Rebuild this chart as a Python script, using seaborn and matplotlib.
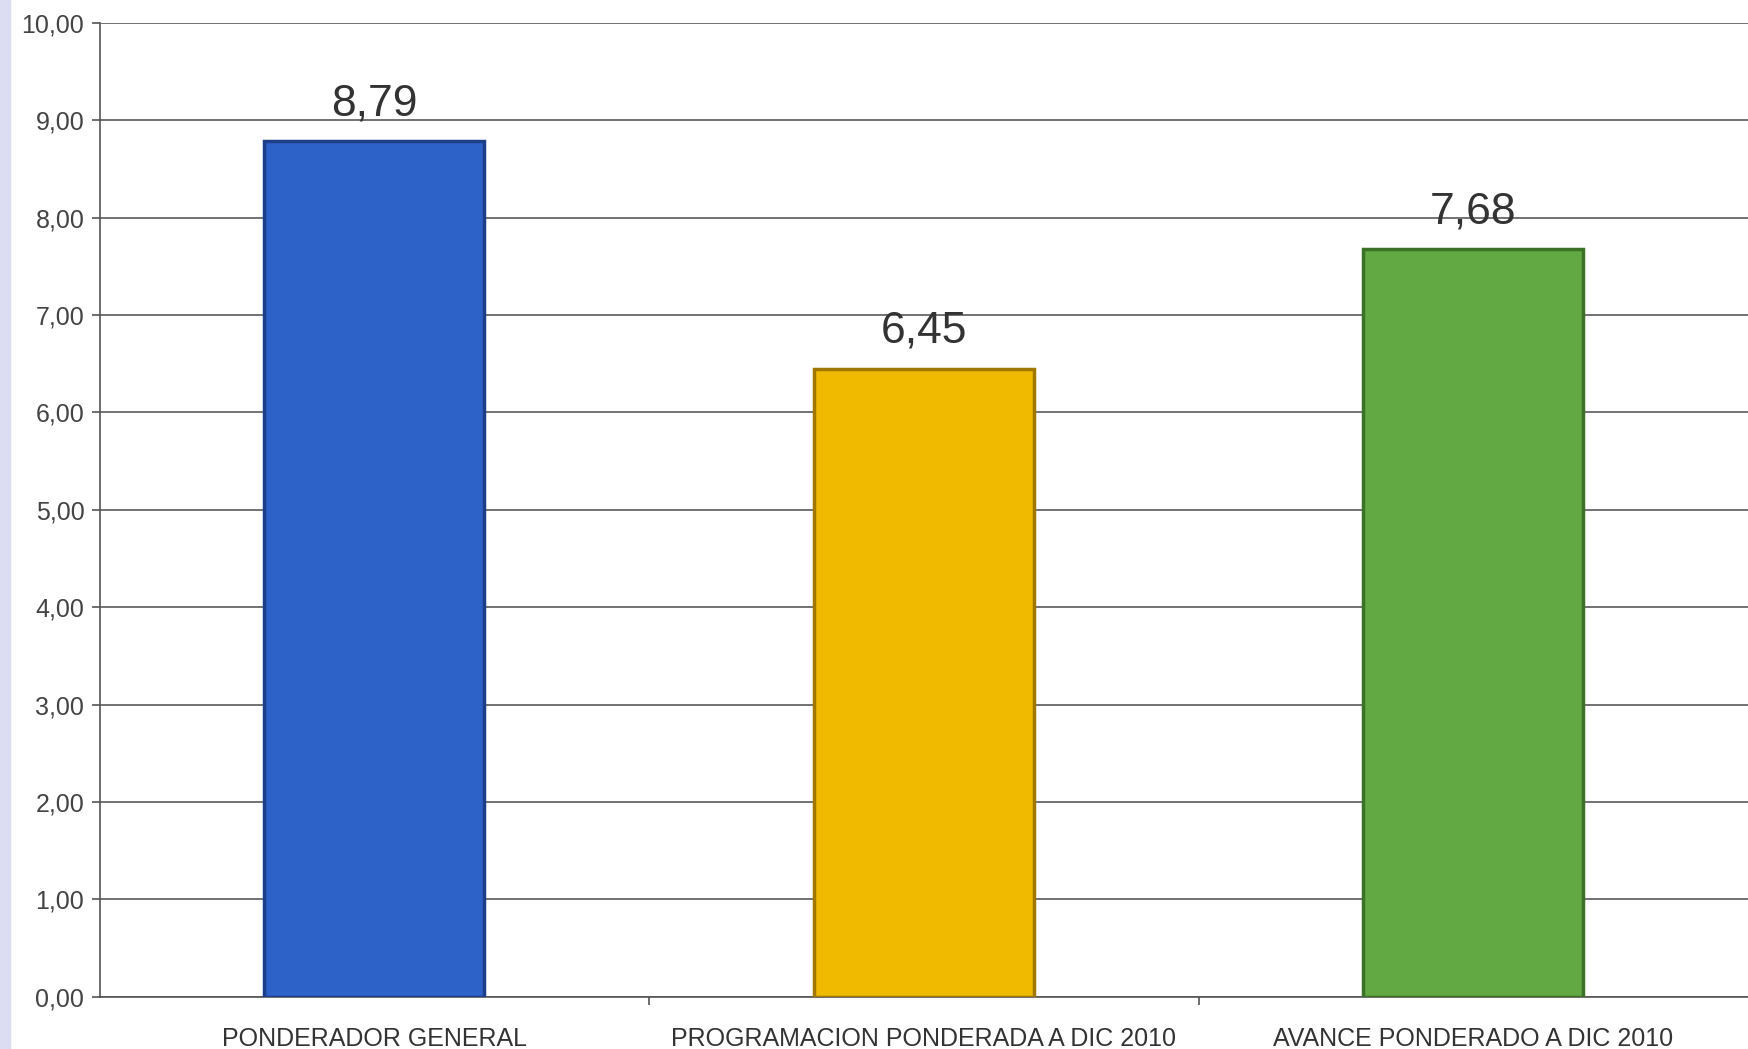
import pandas as pd
import matplotlib
matplotlib.use("Agg")
import matplotlib.pyplot as plt
from matplotlib.ticker import FuncFormatter, FixedLocator
from matplotlib.patches import Rectangle
import seaborn as sns

# Data
categories = ["PONDERADOR GENERAL",
              "PROGRAMACION PONDERADA A DIC 2010",
              "AVANCE PONDERADO A DIC 2010"]
values = [8.79, 6.45, 7.68]
bar_colors = ["#2D62C8", "#F0BA00", "#62A843"]
edge_colors = ["#1D3E88", "#A07800", "#3B7227"]

df = pd.DataFrame({"Categoria": categories, "Valor": values})

sns.set_theme(style="white")
plt.rcParams["font.family"] = ["Liberation Sans", "DejaVu Sans"]

fig = plt.figure(figsize=(17.48, 10.49), dpi=100)
ax = fig.add_axes([0.057, 0.05, 0.943, 0.928])

sns.barplot(data=df, x="Categoria", y="Valor", hue="Categoria",
            palette=bar_colors, saturation=1, width=0.4, legend=False,
            ax=ax, zorder=3)

for patch, ec in zip(ax.patches, edge_colors):
    patch.set_edgecolor(ec)
    patch.set_linewidth(2.5)

# value labels with decimal comma
for patch, v in zip(ax.patches, values):
    ax.annotate(f"{v:.2f}".replace(".", ","),
                (patch.get_x() + patch.get_width() / 2, patch.get_height()),
                xytext=(0, 12), textcoords="offset points",
                ha="center", va="bottom", fontsize=32, color="#333333")

ax.set_ylim(0, 10)
ax.set_xlim(-0.5, 2.5)
ax.yaxis.set_major_locator(FixedLocator([i for i in range(11)]))
ax.yaxis.set_major_formatter(FuncFormatter(lambda v, p: f"{v:.2f}".replace(".", ",")))
ax.grid(axis="y", color="#5a5a5a", linewidth=1.2, zorder=0)
ax.grid(axis="x", visible=False)

ax.set_xlabel("")
ax.set_ylabel("")
ax.tick_params(axis="y", labelsize=18, labelcolor="#444444", length=6,
               width=1.2, color="#555555", direction="out", left=True, pad=5)
ax.tick_params(axis="x", labelsize=18, labelcolor="#333333", length=0, pad=22)
ax.xaxis.set_minor_locator(FixedLocator([0.5, 1.5]))
ax.tick_params(axis="x", which="minor", length=6, width=1.2,
               color="#555555", direction="out", bottom=True)

for side in ["top", "right"]:
    ax.spines[side].set_visible(False)
for side in ["left", "bottom"]:
    ax.spines[side].set_color("#555555")
    ax.spines[side].set_linewidth(1.2)

# light strip at the left edge of the scan
fig.patches.append(Rectangle((0, 0), 0.006, 1, transform=fig.transFigure,
                             color="#DCDCF2", zorder=0))

fig.savefig("out.png", dpi=100, facecolor="white")
